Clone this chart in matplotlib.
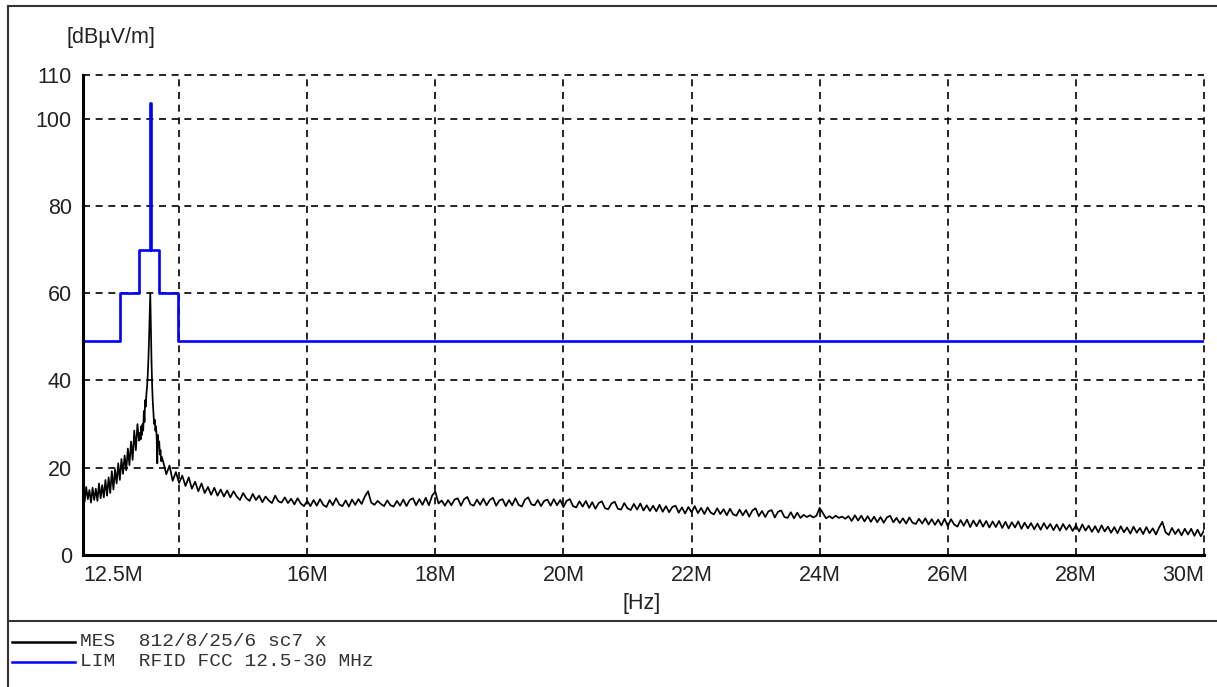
import numpy as np
import matplotlib
matplotlib.use("Agg")
import matplotlib.pyplot as plt
from matplotlib.lines import Line2D

plt.rcParams['font.family'] = ['Liberation Sans', 'DejaVu Sans']

# measured trace (MHz, dBuV/m), read off the plot
# slope below the carrier, 25 kHz steps
freq_low = np.linspace(12.5, 13.375, 36)
level_low = [14.8, 12.2, 15.6, 12.8, 14.9, 12.0, 15.4, 12.6, 15.2, 12.4,
             16.4, 13.0, 16.0, 13.2, 17.2, 13.6, 17.8, 14.2, 19.2, 15.0,
             19.6, 16.4, 21.0, 17.2, 22.0, 18.6, 22.8, 19.4, 24.4, 20.6,
             26.0, 21.8, 28.5, 24.0, 30.0, 26.2]

# around the 13.56 MHz carrier, 10 kHz steps
freq_peak = np.linspace(13.39, 13.73, 35)
level_peak = [28.0, 26.5, 29.5, 27.5, 30.0, 28.5, 33.0, 30.5, 35.5, 34.0,
              37.0, 38.5, 41.0, 44.5, 49.0, 55.0, 60.0, 52.0, 44.0, 38.5,
              35.0, 32.5, 30.0, 31.0, 28.5, 29.5, 27.0, 21.0, 27.5, 25.0,
              26.0, 23.0, 24.0, 21.5, 22.5]

# rest of the sweep, 50 kHz steps
freq_high = np.linspace(13.75, 30.0, 326)
level_high = [
    21.5, 18.5, 20.5, 17.0, 19.0, 16.5, 18.2, 15.8, 17.8, 15.2, 16.8, 14.6, 16.4, 14.2, 15.6, 13.8, 15.4, 13.6, 15.0, 13.4,
    14.8, 13.2, 14.6, 13.4, 12.6, 14.2, 13.0, 12.4, 14.0, 12.6, 13.6, 12.1, 13.4, 12.5, 11.9, 13.6, 12.3, 12.0, 13.2, 11.9,
    12.9, 11.6, 13.0, 11.8, 11.2, 12.4, 11.2, 12.6, 11.3, 12.8, 11.5, 11.0, 12.6, 11.4, 13.0, 11.6, 11.2, 12.5, 11.1, 12.7,
    11.5, 12.8, 11.7, 13.4, 14.6, 12.0, 11.5, 12.4, 11.7, 11.2, 12.5, 11.4, 11.1, 12.4, 11.3, 12.7, 11.2, 12.6, 13.0, 11.4,
    12.8, 11.5, 13.1, 11.4, 13.6, 14.5, 11.8, 12.5, 11.3, 12.6, 11.4, 12.7, 13.0, 11.3, 12.8, 13.3, 11.6, 11.3, 12.7, 11.5,
    12.9, 11.4, 12.6, 13.1, 11.3, 12.5, 12.8, 11.2, 12.6, 11.4, 13.0, 11.5, 11.1, 12.7, 13.2, 11.6, 11.4, 12.6, 11.2, 12.4,
    12.7, 11.3, 12.8, 11.4, 12.6, 11.0, 12.4, 12.8, 11.2, 10.9, 12.3, 11.1, 12.4, 10.8, 12.1, 10.6, 11.9, 12.3, 10.7, 10.5,
    11.8, 12.2, 10.6, 10.4, 11.9, 10.7, 10.3, 11.7, 10.4, 11.8, 10.2, 11.4, 10.1, 11.3, 10.0, 11.5, 9.9, 11.2, 9.8, 11.0,
    11.3, 9.7, 10.9, 9.5, 11.0, 9.8, 11.2, 9.6, 10.8, 9.4, 10.9, 9.7, 9.3, 10.7, 9.4, 10.5, 9.1, 10.6, 9.3, 9.0,
    10.4, 9.1, 10.3, 8.8, 10.2, 10.7, 8.9, 10.1, 8.7, 10.0, 10.3, 8.6, 9.9, 10.2, 8.7, 8.5, 9.8, 8.4, 9.7, 8.5,
    9.2, 8.7, 9.1, 8.6, 9.0, 10.8, 9.6, 8.4, 8.9, 8.4, 9.0, 8.5, 8.8, 8.3, 8.9, 7.8, 9.1, 7.9, 9.0, 7.7,
    8.9, 7.6, 8.8, 7.5, 8.7, 7.4, 8.6, 9.0, 7.5, 8.5, 7.3, 8.4, 7.2, 8.6, 7.4, 7.1, 8.3, 7.2, 8.4, 7.0,
    8.2, 6.9, 8.1, 6.8, 8.3, 6.6, 8.2, 7.0, 6.5, 8.0, 6.7, 8.1, 6.4, 7.9, 6.6, 8.0, 6.5, 7.8, 6.3, 7.7,
    6.4, 7.8, 6.2, 7.6, 6.1, 7.5, 6.3, 7.7, 6.0, 7.4, 6.1, 7.3, 5.9, 7.2, 5.8, 7.3, 6.0, 7.1, 5.7, 7.0,
    5.6, 7.1, 5.8, 6.9, 5.5, 6.8, 5.4, 7.0, 5.6, 6.7, 5.3, 6.6, 5.2, 6.8, 5.4, 6.5, 5.1, 6.4, 5.0, 6.6,
    5.2, 6.3, 4.9, 6.5, 5.1, 6.2, 4.8, 6.4, 5.0, 6.1, 4.7, 6.3, 7.6, 5.2, 4.6, 6.2, 4.8, 5.9, 4.5, 6.0,
    4.7, 6.0, 4.4, 5.8, 4.3, 5.6]

# limit line (step edges in MHz, level valid from each edge on)
limit_edges = [12.5, 13.08, 13.38, 13.553, 13.567, 13.68, 13.99, 30.0]
limit_levels = [49, 60, 70, 103.5, 70, 60, 49, 49]

x_ticks = [12.5, 14, 16, 18, 20, 22, 24, 26, 28, 30]
x_labels = ['12.5M', '', '16M', '18M', '20M', '22M', '24M', '26M', '28M', '30M']
y_ticks = [0, 20, 40, 60, 80, 100, 110]

legend_rows = ['MES  812/8/25/6 sc7 x', 'LIM  RFID FCC 12.5-30 MHz']
legend_colors = ['black', '#0000ff']

freq = np.concatenate([freq_low, freq_peak, freq_high])
level = np.array(level_low + level_peak + level_high)

fig = plt.figure(figsize=(12.17, 6.87), dpi=100)
ax = fig.add_axes([83 / 1217, 1 - 555 / 687, (1204 - 83) / 1217, (555 - 75) / 687])

dash = (0, (4.2, 3.4))
for x in x_ticks[1:]:
    ax.axvline(x, color='black', lw=1.2, ls=dash, clip_on=False, zorder=1)
for y in y_ticks[1:]:
    ax.axhline(y, color='black', lw=1.2, ls=dash, clip_on=False, zorder=1)

ax.step(limit_edges, limit_levels, where='post', color='#0000ff', lw=1.9, zorder=2)
ax.plot(freq, level, color='black', lw=1.25, zorder=3)

ax.set_xlim(12.5, 30)
ax.set_ylim(0, 110)
ax.set_xticks(x_ticks)
ax.set_xticklabels(x_labels)
ax.set_yticks(y_ticks)
ax.tick_params(length=0, labelsize=15.5, colors='#222222')
ax.tick_params(axis='x', pad=7)
ax.tick_params(axis='y', pad=8)
lbls = ax.get_xticklabels()
lbls[0].set_horizontalalignment('left')
lbls[-1].set_horizontalalignment('right')

for side in ['top', 'right']:
    ax.spines[side].set_visible(False)
for side in ['left', 'bottom']:
    ax.spines[side].set_linewidth(2.2)
    ax.spines[side].set_zorder(4)

fig.text(67 / 1217, 1 - 37 / 687, '[dBµV/m]', fontsize=15.5, color='#222222', va='center', ha='left')
fig.text(642 / 1217, 1 - 603 / 687, '[Hz]', fontsize=15.5, color='#222222', va='center', ha='center')

# outer frame and legend box
fig.add_artist(Line2D([7.5 / 1217, 7.5 / 1217], [0, 1 - 6 / 687], transform=fig.transFigure, color='#333333', lw=1.5))
fig.add_artist(Line2D([7.5 / 1217, 1], [1 - 6 / 687, 1 - 6 / 687], transform=fig.transFigure, color='#333333', lw=1.5))
fig.add_artist(Line2D([7.5 / 1217, 1], [1 - 621 / 687, 1 - 621 / 687], transform=fig.transFigure, color='#333333', lw=1.5))

for i, (txt, col) in enumerate(zip(legend_rows, legend_colors)):
    yy = 1 - (642 + 20 * i) / 687
    fig.add_artist(Line2D([12 / 1217, 75 / 1217], [yy, yy], transform=fig.transFigure, color=col, lw=1.8))
    fig.text(80 / 1217, yy, txt, family='Liberation Mono', fontsize=14, color='#333333', va='center', ha='left')

fig.savefig('out.png', dpi=100)
